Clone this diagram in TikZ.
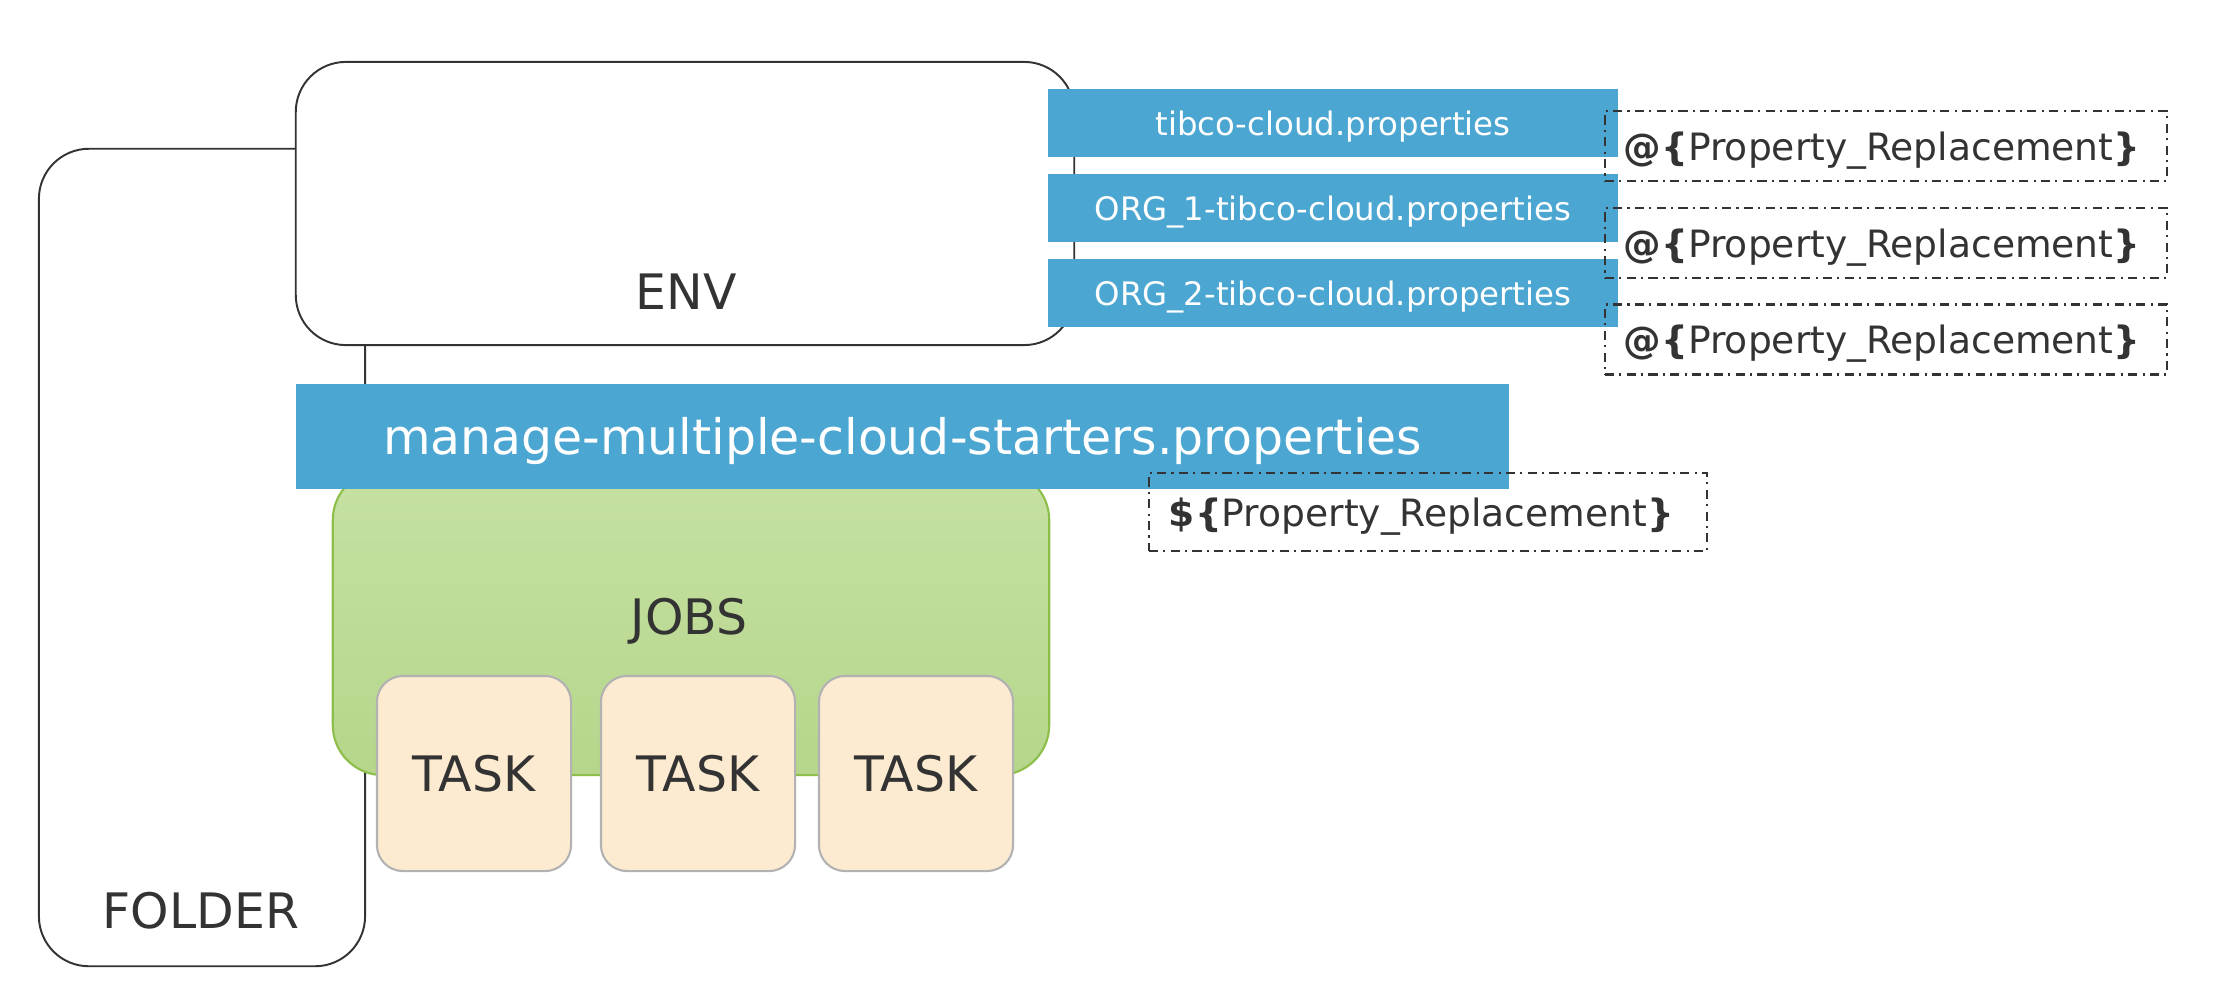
\documentclass[tikz,border=0pt]{standalone}
\usepackage{fontspec}
\setmainfont{DejaVu Sans}
\usepackage{tikz}
\usepackage{color}

\definecolor{propblue}{RGB}{75,166,210}
\definecolor{jobtop}{RGB}{198,225,162}
\definecolor{jobbottom}{RGB}{181,214,139}
\definecolor{jobline}{RGB}{141,190,74}
\definecolor{taskfill}{RGB}{252,235,208}
\definecolor{taskline}{RGB}{178,178,178}
\definecolor{darktext}{RGB}{51,51,51}

\newcommand{\propbig}{\fontsize{13.9}{16}\selectfont}
\newcommand{\propmid}{\fontsize{10.7}{12.8}\selectfont}
\newcommand{\propsmall}{\fontsize{9.2}{11}\selectfont}

\begin{document}
\begin{tikzpicture}[x=0.01cm, y=-0.01cm,
    darkbox/.style={draw=darktext, line width=0.55pt, rounded corners=0.5cm, inner sep=0pt},
    bluebar/.style={fill=propblue, text=white, inner sep=0pt},
    taskbox/.style={draw=taskline, fill=taskfill, line width=0.6pt, rounded corners=0.26cm, minimum width=1.94cm, minimum height=1.95cm, text=darktext, font=\propbig},
    replbox/.style={draw=darktext, line width=0.6pt, dash pattern=on 2.6pt off 1.5pt on 0.6pt off 1.5pt, inner ysep=0pt, align=left, text=darktext, font=\propmid, text height=8pt, text depth=0pt}
]
    \useasboundingbox (0,0) rectangle (2240,1006);

    % Folder outline
    \node[darkbox, minimum width=3.26cm, minimum height=8.17cm] (folder) at (202,557.5) {};
    \node[text=darktext, font=\propbig] (foldername) at (201,911) {FOLDER};

    % Environment
    \node[darkbox, fill=white, minimum width=7.78cm, minimum height=2.83cm] (env) at (685,203.5) {};
    \node[text=darktext, font=\propbig] (envname) at (686,292) {ENV};

    % Property files per org
    \foreach \i/\y/\f in {1/123/tibco-cloud.properties, 2/208/ORG\_1-tibco-cloud.properties, 3/293/ORG\_2-tibco-cloud.properties} {
        \node[bluebar, font=\propsmall, text height=7pt, text depth=0pt, minimum width=5.7cm, minimum height=0.67cm] (prop\i) at (1333,\y) {\f};
    }

    % Jobs
    \node[draw=jobline, line width=0.6pt, top color=jobtop, bottom color=jobbottom, rounded corners=0.5cm, minimum width=7.16cm, minimum height=3.05cm] (jobs) at (691,622.5) {};
    \node[text=darktext, font=\propbig] (jobsname) at (689,621) {JOBS};

    % Tasks
    \foreach \i/\x in {1/474, 2/698, 3/916} {
        \node[taskbox] (task\i) at (\x,773.5) {TASK};
    }

    % Main properties file
    \node[bluebar, font=\propbig, text height=10.5pt, text depth=0pt, minimum width=12.13cm, minimum height=1.05cm] (mainprop) at (902.5,436.5) {manage-multiple-cloud-starters.properties};

    % Replacement tokens
    \foreach \i/\y in {1/146, 2/243, 3/339.5} {
        \node[replbox, text width=5.24cm, inner xsep=0.19cm, minimum height=0.7cm] (repl\i) at (1886,\y) {\textbf{@\{}Property\_Replacement\textbf{\}}};
    }
    \node[replbox, text width=5.18cm, inner xsep=0.2cm, minimum height=0.78cm] (dollar) at (1428,512) {\textbf{\$\{}Property\_Replacement\textbf{\}}};
\end{tikzpicture}
\end{document}
